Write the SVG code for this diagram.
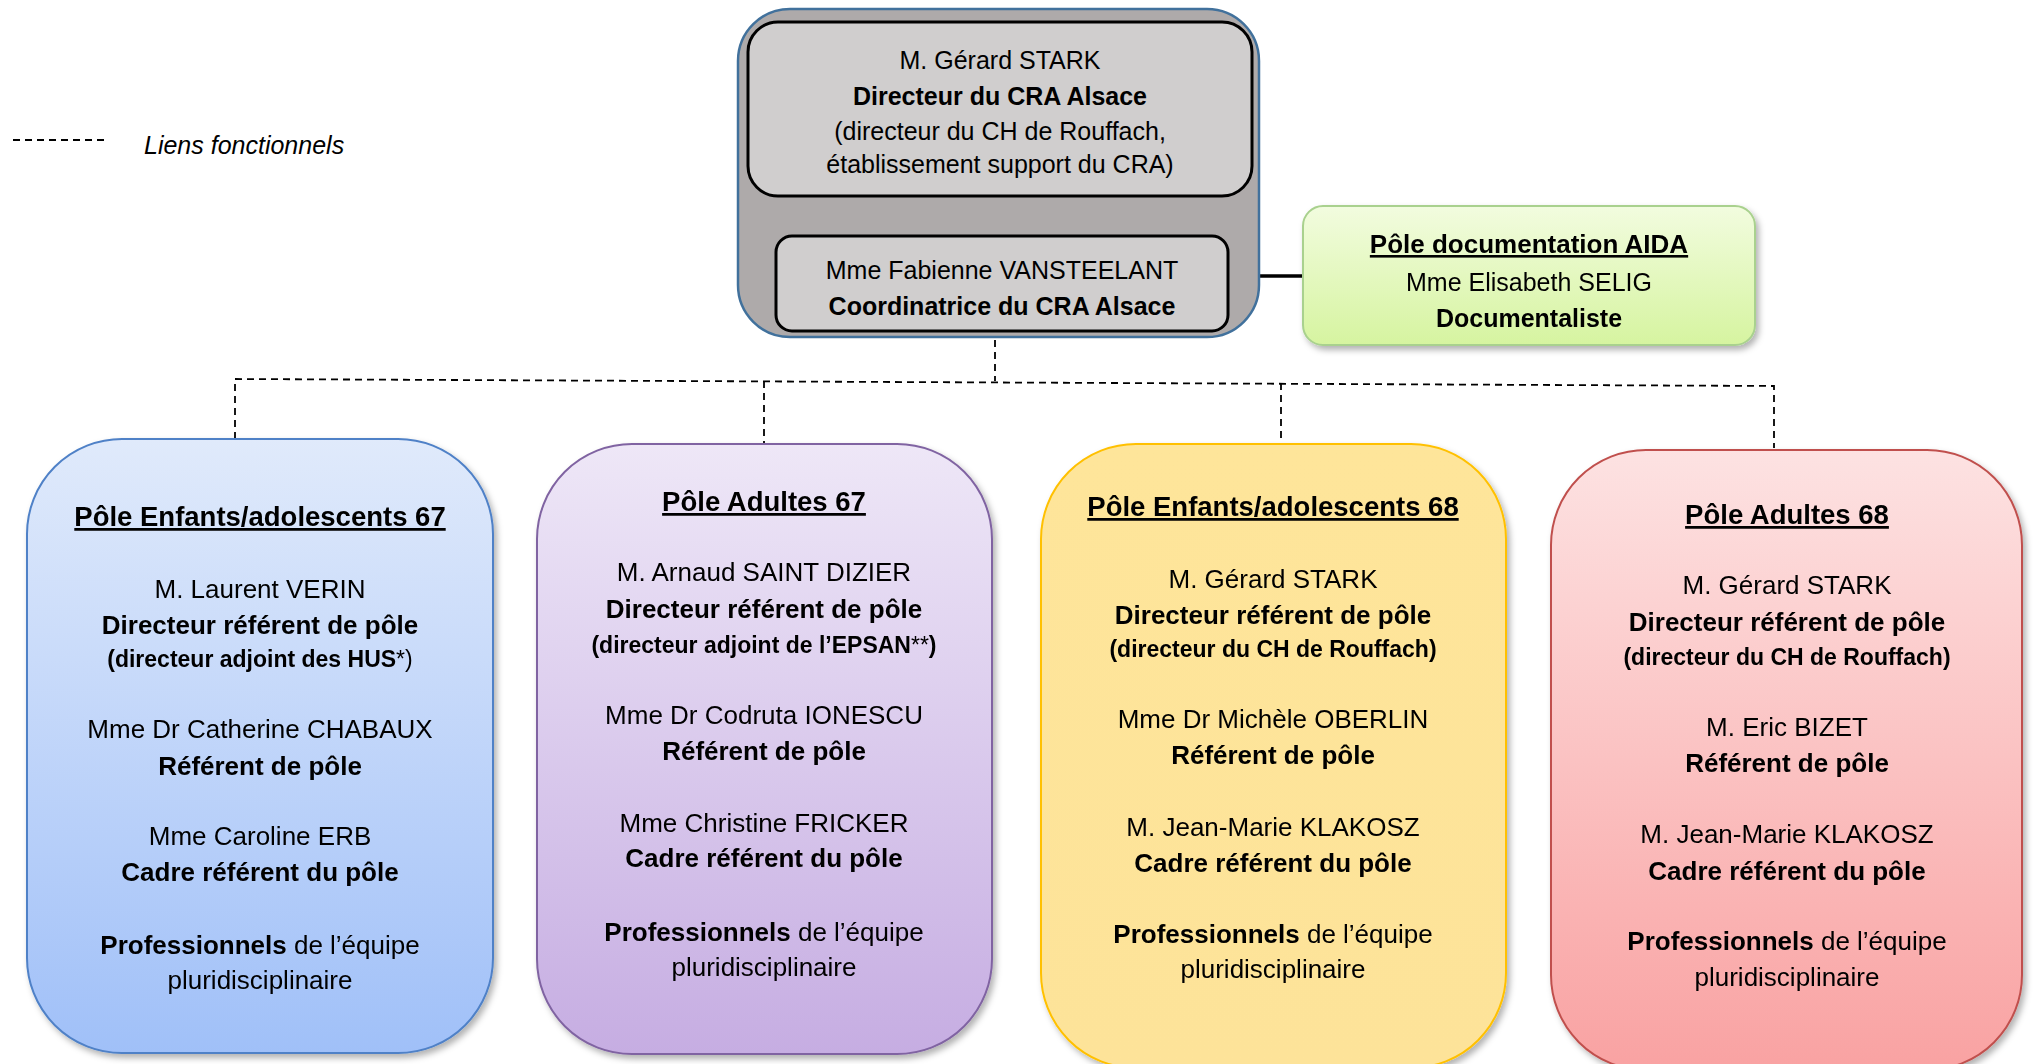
<svg xmlns="http://www.w3.org/2000/svg" width="2035" height="1064" viewBox="0 0 2035 1064">
<style>
text{font-family:"Liberation Sans",Arial,sans-serif;fill:#000;text-anchor:middle}
.b{font-weight:bold}
.n{font-weight:normal}
.u{text-decoration:underline}
.t25{font-size:25px}
.t26{font-size:26px}
.t23{font-size:23px}
.tt{font-size:27.5px;font-weight:bold;text-decoration:underline}
.dash{fill:none;stroke:#000;stroke-width:1.8;stroke-dasharray:7 5}
.solid{fill:none;stroke:#000;stroke-width:3.5}
.inner{fill:#d0cece;stroke:#000;stroke-width:3}
</style>
<defs>
<filter id="sh" x="-10%" y="-10%" width="125%" height="125%">
<feDropShadow dx="3" dy="4" stdDeviation="3" flood-color="#000" flood-opacity="0.3"/>
</filter>
<linearGradient id="gBlue" x1="0" y1="0" x2="0" y2="1"><stop offset="0" stop-color="#e0eafb"/><stop offset="1" stop-color="#a0c0f8"/></linearGradient>
<linearGradient id="gPurple" x1="0" y1="0" x2="0" y2="1"><stop offset="0" stop-color="#eee7f7"/><stop offset="1" stop-color="#c6ade2"/></linearGradient>
<linearGradient id="gYellow" x1="0" y1="0" x2="0" y2="1"><stop offset="0" stop-color="#fee59a"/><stop offset="1" stop-color="#fde399"/></linearGradient>
<linearGradient id="gRed" x1="0" y1="0" x2="0" y2="1"><stop offset="0" stop-color="#fde2e2"/><stop offset="1" stop-color="#f9a2a2"/></linearGradient>
<linearGradient id="gGreen" x1="0" y1="0" x2="0" y2="1"><stop offset="0" stop-color="#f2fcdf"/><stop offset="1" stop-color="#d6f4a0"/></linearGradient>
</defs>

<g id="legend">
<line class="dash" x1="13" y1="140" x2="106" y2="140"/>
<text x="144" y="154" style="text-anchor:start;font-style:italic;font-size:25px">Liens fonctionnels</text>
</g>

<g id="connectors">
<line class="solid" x1="999" y1="196" x2="999" y2="234"/>
<line class="solid" x1="1230" y1="276" x2="1303" y2="276"/>
<path class="dash" d="M995,340 L995,381"/>
<path class="dash" d="M235,439 L235,379 L1774,386 L1774,448"/>
<path class="dash" d="M764,381 L764,445"/>
<path class="dash" d="M1281,383 L1281,444"/>
</g>

<g id="cra">
<rect x="738" y="9" width="521" height="328" rx="52" fill="#aeaaaa" stroke="#41719c" stroke-width="2.5"/>
</g>

<g id="directeur">
<rect class="inner" x="748" y="22" width="504" height="174" rx="30"/>
<text class="t25" x="1000" y="69">M. Gérard STARK</text>
<text class="t25 b" x="1000" y="105">Directeur du CRA Alsace</text>
<text class="t25" x="1000" y="140">(directeur du CH de Rouffach,</text>
<text class="t25" x="1000" y="173">établissement support du CRA)</text>
</g>

<g id="coordinatrice">
<rect class="inner" x="776" y="236" width="452" height="95" rx="16"/>
<text class="t25" x="1002" y="279">Mme Fabienne VANSTEELANT</text>
<text class="t25 b" x="1002" y="315">Coordinatrice du CRA Alsace</text>
</g>

<g id="aida" filter="url(#sh)">
<rect x="1303" y="206" width="452" height="139" rx="20" fill="url(#gGreen)" stroke="#a9d18e" stroke-width="2"/>
<text class="t26 b u" x="1529" y="253">Pôle documentation AIDA</text>
<text class="t25" x="1529" y="291">Mme Elisabeth SELIG</text>
<text class="t25 b" x="1529" y="327">Documentaliste</text>
</g>

<g id="pole-enfants-67" filter="url(#sh)">
<rect x="27" y="439" width="466" height="614" rx="95" fill="url(#gBlue)" stroke="#4f81c7" stroke-width="2"/>
<text class="tt" x="260" y="526">Pôle Enfants/adolescents 67</text>
<text class="t26" x="260" y="598">M. Laurent VERIN</text>
<text class="t26 b" x="260" y="634">Directeur référent de pôle</text>
<text class="t23 b" x="260" y="667">(directeur adjoint des HUS<tspan class="n">*)</tspan></text>
<text class="t26" x="260" y="738">Mme Dr Catherine CHABAUX</text>
<text class="t26 b" x="260" y="775">Référent de pôle</text>
<text class="t26" x="260" y="845">Mme Caroline ERB</text>
<text class="t26 b" x="260" y="881">Cadre référent du pôle</text>
<text class="t26" x="260" y="954"><tspan class="b">Professionnels</tspan> de l’équipe</text>
<text class="t26" x="260" y="989">pluridisciplinaire</text>
</g>

<g id="pole-adultes-67" filter="url(#sh)">
<rect x="537" y="444" width="455" height="610" rx="95" fill="url(#gPurple)" stroke="#8064a2" stroke-width="2"/>
<text class="tt" x="764" y="511">Pôle Adultes 67</text>
<text class="t26" x="764" y="581">M. Arnaud SAINT DIZIER</text>
<text class="t26 b" x="764" y="618">Directeur référent de pôle</text>
<text class="t23 b" x="764" y="653">(directeur adjoint de l’EPSAN<tspan class="n">**</tspan>)</text>
<text class="t26" x="764" y="724">Mme Dr Codruta IONESCU</text>
<text class="t26 b" x="764" y="760">Référent de pôle</text>
<text class="t26" x="764" y="832">Mme Christine FRICKER</text>
<text class="t26 b" x="764" y="867">Cadre référent du pôle</text>
<text class="t26" x="764" y="941"><tspan class="b">Professionnels</tspan> de l’équipe</text>
<text class="t26" x="764" y="976">pluridisciplinaire</text>
</g>

<g id="pole-enfants-68" filter="url(#sh)">
<rect x="1041" y="444" width="465" height="624" rx="95" fill="url(#gYellow)" stroke="#ffc000" stroke-width="2"/>
<text class="tt" x="1273" y="516">Pôle Enfants/adolescents 68</text>
<text class="t26" x="1273" y="588">M. Gérard STARK</text>
<text class="t26 b" x="1273" y="624">Directeur référent de pôle</text>
<text class="t23 b" x="1273" y="657">(directeur du CH de Rouffach)</text>
<text class="t26" x="1273" y="728">Mme Dr Michèle OBERLIN</text>
<text class="t26 b" x="1273" y="764">Référent de pôle</text>
<text class="t26" x="1273" y="836">M. Jean-Marie KLAKOSZ</text>
<text class="t26 b" x="1273" y="872">Cadre référent du pôle</text>
<text class="t26" x="1273" y="943"><tspan class="b">Professionnels</tspan> de l’équipe</text>
<text class="t26" x="1273" y="978">pluridisciplinaire</text>
</g>

<g id="pole-adultes-68" filter="url(#sh)">
<rect x="1551" y="450" width="471" height="620" rx="95" fill="url(#gRed)" stroke="#c0504d" stroke-width="2"/>
<text class="tt" x="1787" y="524">Pôle Adultes 68</text>
<text class="t26" x="1787" y="594">M. Gérard STARK</text>
<text class="t26 b" x="1787" y="631">Directeur référent de pôle</text>
<text class="t23 b" x="1787" y="665">(directeur du CH de Rouffach)</text>
<text class="t26" x="1787" y="736">M. Eric BIZET</text>
<text class="t26 b" x="1787" y="772">Référent de pôle</text>
<text class="t26" x="1787" y="843">M. Jean-Marie KLAKOSZ</text>
<text class="t26 b" x="1787" y="880">Cadre référent du pôle</text>
<text class="t26" x="1787" y="950"><tspan class="b">Professionnels</tspan> de l’équipe</text>
<text class="t26" x="1787" y="986">pluridisciplinaire</text>
</g>
</svg>
